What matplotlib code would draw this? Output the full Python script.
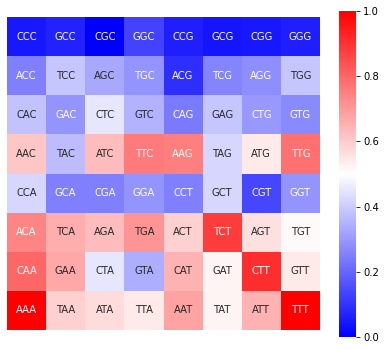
import numpy as np
import matplotlib
matplotlib.use("Agg")
import matplotlib.pyplot as plt
import seaborn as sns

# codon grid, row by row
codons = [
    ["CCC", "GCC", "CGC", "GGC", "CCG", "GCG", "CGG", "GGG"],
    ["ACC", "TCC", "AGC", "TGC", "ACG", "TCG", "AGG", "TGG"],
    ["CAC", "GAC", "CTC", "GTC", "CAG", "GAG", "CTG", "GTG"],
    ["AAC", "TAC", "ATC", "TTC", "AAG", "TAG", "ATG", "TTG"],
    ["CCA", "GCA", "CGA", "GGA", "CCT", "GCT", "CGT", "GGT"],
    ["ACA", "TCA", "AGA", "TGA", "ACT", "TCT", "AGT", "TGT"],
    ["CAA", "GAA", "CTA", "GTA", "CAT", "GAT", "CTT", "GTT"],
    ["AAA", "TAA", "ATA", "TTA", "AAT", "TAT", "ATT", "TTT"],
]

scores = [
    [0.05, 0.07, 0.00, 0.13, 0.06, 0.04, 0.05, 0.06],
    [0.25, 0.39, 0.33, 0.29, 0.09, 0.26, 0.28, 0.39],
    [0.38, 0.29, 0.45, 0.35, 0.24, 0.39, 0.30, 0.27],
    [0.61, 0.37, 0.63, 0.76, 0.75, 0.42, 0.54, 0.78],
    [0.42, 0.25, 0.25, 0.29, 0.25, 0.42, 0.14, 0.29],
    [0.74, 0.66, 0.63, 0.71, 0.59, 0.88, 0.56, 0.51],
    [0.80, 0.67, 0.45, 0.34, 0.65, 0.52, 0.91, 0.54],
    [1.00, 0.59, 0.57, 0.54, 0.68, 0.52, 0.65, 1.00],
]

W, H = 385, 350
fig = plt.figure(figsize=(W / 72, H / 72), dpi=72)
ax = fig.add_axes([7 / W, 20 / H, 313 / W, 313 / H])
cax = fig.add_axes([339 / W, 13 / H, 17 / W, 326 / H])

sns.heatmap(np.array(scores), annot=np.array(codons), fmt="", cmap="bwr",
            vmin=0, vmax=1, square=True, xticklabels=False, yticklabels=False,
            ax=ax, cbar_ax=cax, annot_kws={"fontsize": 10})

cax.tick_params(labelsize=10)
fig.savefig("out.png", dpi=72)
